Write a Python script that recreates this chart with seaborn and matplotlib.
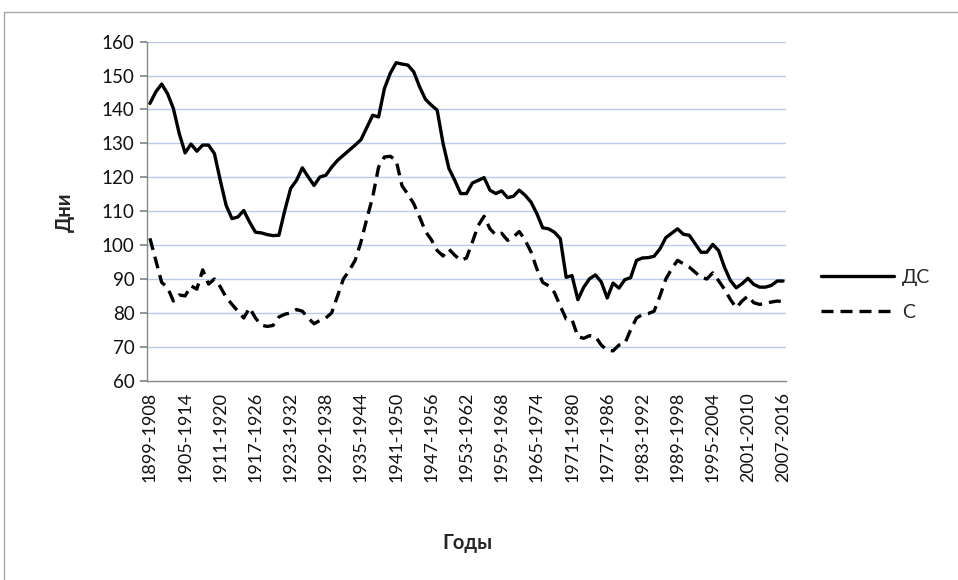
import numpy as np
import pandas as pd
import matplotlib
matplotlib.use("Agg")
import matplotlib.pyplot as plt
import seaborn as sns
from matplotlib.patches import Rectangle

# ---- data ----
start_years = list(range(1899, 2008))  # 10-year moving windows 1899-1908 ... 2007-2016

ds_values = [
    141.8, 145.2, 147.5, 144.7, 140.3, 132.9, 127.2, 129.8, 127.7, 129.5,
    129.5, 127.0, 119.1, 111.7, 107.8, 108.3, 110.2, 106.8, 103.8, 103.6,
    103.1, 102.8, 102.9, 110.2, 116.7, 119.1, 122.8, 120.1, 117.6, 120.1,
    120.6, 123.0, 125.0, 126.5, 128.0, 129.5, 131.1, 134.7, 138.3, 137.8,
    146.2, 150.7, 153.8, 153.4, 153.1, 151.1, 146.7, 143.0, 141.3, 139.8,
    130.0, 122.6, 119.1, 115.2, 115.2, 118.3, 119.1, 119.9, 116.2, 115.2,
    116.0, 114.0, 114.4, 116.2, 114.7, 112.7, 109.3, 105.1, 104.8, 103.8,
    101.9, 90.5, 91.0, 83.9, 87.6, 90.1, 91.2, 89.1, 84.4, 88.8,
    87.3, 89.8, 90.4, 95.5, 96.2, 96.3, 96.7, 98.9, 102.2, 103.5,
    104.8, 103.2, 102.9, 100.4, 97.9, 97.9, 100.2, 98.4, 93.5, 89.6,
    87.4, 88.6, 90.2, 88.4, 87.6, 87.6, 88.1, 89.4, 89.4,
]

s_values = [
    102.0, 95.5, 89.0, 87.5, 83.5, 85.3, 85.0, 88.0, 87.0, 92.7,
    88.5, 90.0, 87.7, 84.6, 82.5, 80.5, 78.5, 81.5, 78.5, 76.4,
    76.0, 76.3, 78.8, 79.6, 80.0, 81.0, 80.5, 78.5, 76.8, 77.8,
    78.5, 80.0, 85.0, 90.0, 92.5, 95.5, 100.9, 107.8, 114.2, 123.0,
    126.0, 126.2, 125.0, 117.5, 115.0, 112.2, 108.3, 104.0, 101.6, 98.4,
    96.8, 98.8, 97.0, 95.5, 96.2, 100.9, 105.8, 108.5, 104.8, 103.0,
    103.5, 101.4, 102.4, 104.0, 101.5, 98.0, 93.0, 89.0, 88.0, 86.0,
    82.0, 78.2, 78.0, 73.0, 72.5, 73.3, 73.0, 70.5, 69.0, 68.8,
    70.5, 71.0, 75.0, 78.5, 79.5, 79.8, 80.5, 85.0, 90.0, 93.0,
    95.5, 94.5, 93.5, 92.0, 90.5, 90.0, 91.8, 89.5, 87.0, 84.0,
    81.5, 83.5, 85.0, 83.0, 82.5, 82.8, 83.2, 83.5, 83.3,
]

series_names = ["ДС", "С"]
y_ticks = [60, 70, 80, 90, 100, 110, 120, 130, 140, 150, 160]
tick_every = 6
x_title = "Годы"
y_title = "Дни"

period_labels = [f"{y}-{y + 9}" for y in start_years]
idx = np.arange(len(start_years))

df = pd.DataFrame({
    "idx": np.concatenate([idx, idx]),
    "value": ds_values + s_values,
    "series": [series_names[0]] * len(ds_values) + [series_names[1]] * len(s_values),
})

# ---- style ----
sns.set_theme(style="white")
plt.rcParams["font.family"] = ["Lato", "DejaVu Sans"]

fig = plt.figure(figsize=(9.58, 5.80), dpi=100)
ax = fig.add_axes([147 / 958, 1 - 380.7 / 580, (786 - 147) / 958, (380.7 - 41.7) / 580])

grid_color = "#bccaee"
for yv in y_ticks[1:]:
    ax.axhline(yv, color=grid_color, lw=1.0, zorder=0)

LW = 2.4
DASH = (3.6, 2.1)
sns.lineplot(data=df[df.series == series_names[0]], x="idx", y="value",
             color="black", lw=LW, ax=ax, label=series_names[0], zorder=3)
sns.lineplot(data=df[df.series == series_names[1]], x="idx", y="value",
             color="black", lw=LW, ax=ax, label=series_names[1], zorder=3)
ax.lines[-1].set_dashes(DASH)

ax.set_xlim(-0.5, len(start_years) - 0.5)
ax.set_ylim(60, 160)
ax.set_yticks(y_ticks)
ax.set_yticklabels([str(v) for v in y_ticks], fontsize=13.5, color="#111111")
tick_pos = list(range(0, len(start_years), tick_every))
ax.set_xticks(tick_pos)
ax.set_xticklabels([period_labels[i] for i in tick_pos], rotation=90, fontsize=13,
                   color="#111111")
ax.tick_params(axis="y", length=5, color="#868686", pad=4, left=True)
ax.tick_params(axis="x", length=0, pad=8)
ax.set_xlabel("")
ax.set_ylabel("")

for side in ["top", "right"]:
    ax.spines[side].set_visible(False)
for side in ["left", "bottom"]:
    ax.spines[side].set_color("#868686")
    ax.spines[side].set_linewidth(1.0)

leg = ax.legend(loc="center left", bbox_to_anchor=(803 / 958, 1 - 295 / 580),
                bbox_transform=fig.transFigure, frameon=False, fontsize=14,
                handlelength=3.8, handletextpad=0.4, labelspacing=0.95)
for h in leg.get_lines():
    h.set_linewidth(LW)
leg.get_lines()[1].set_dashes(DASH)

fig.text(467 / 958, 1 - 543 / 580, x_title, ha="center", va="center",
         fontsize=14.5, fontweight="bold")
fig.text(65 / 958, 1 - 212 / 580, y_title, ha="center", va="center",
         fontsize=14.5, fontweight="bold", rotation=90)

fig.patches.append(Rectangle((4 / 958, -0.1), 1.2, 1 - 12 / 580 + 0.1,
                             transform=fig.transFigure, fill=False,
                             edgecolor="#a6a6a6", lw=1.0))

fig.savefig("out.png", dpi=100)
